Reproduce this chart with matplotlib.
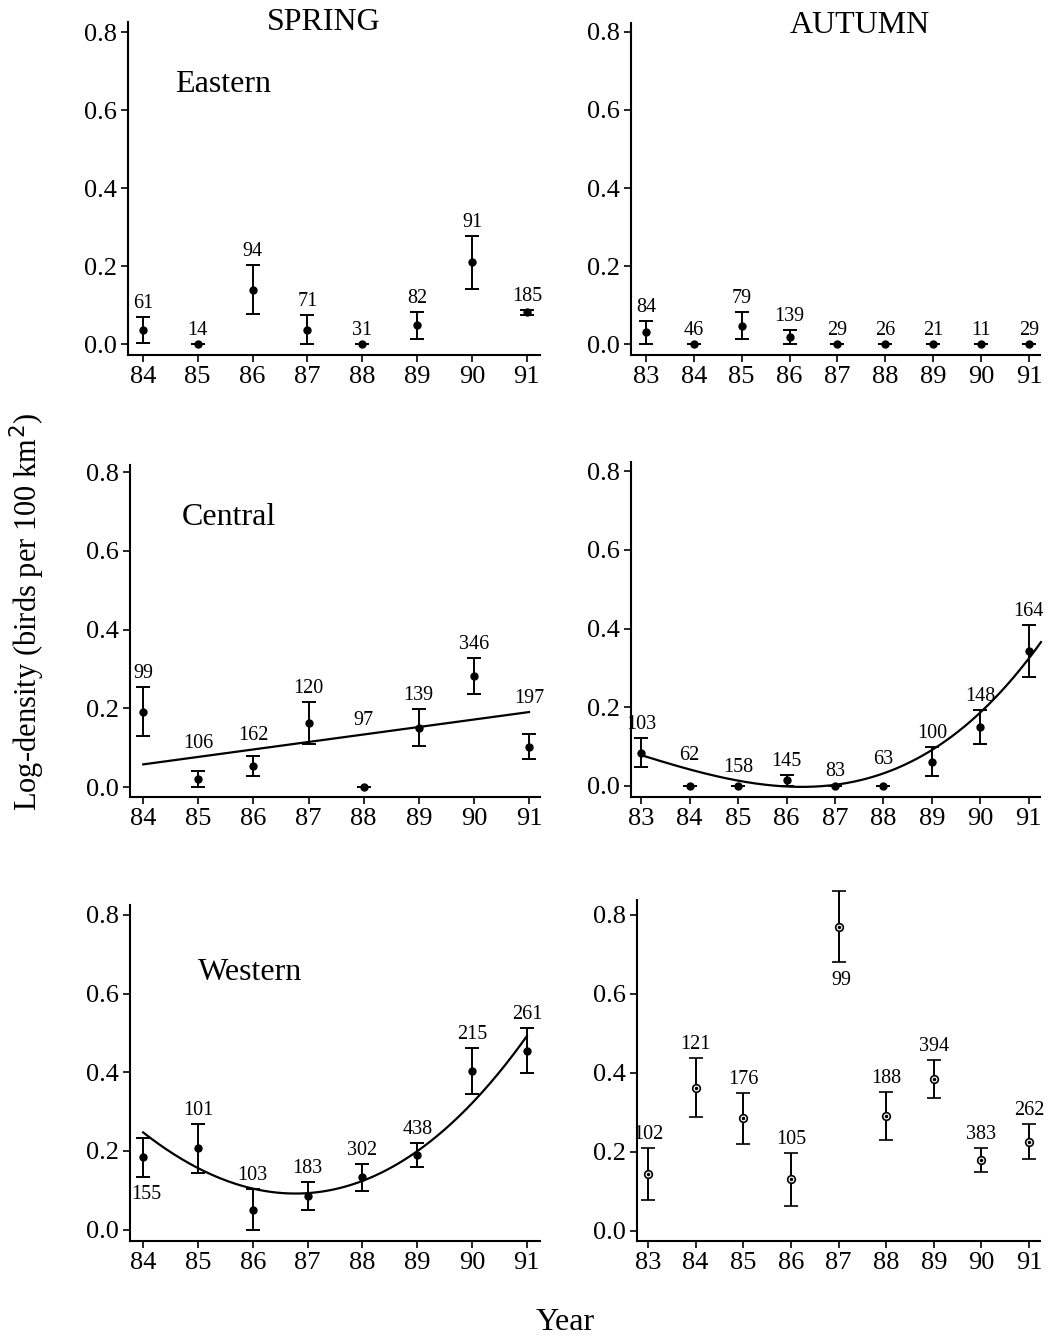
import numpy as np
import matplotlib
matplotlib.use('Agg')
import matplotlib.pyplot as plt

plt.rcParams['font.family'] = ['Liberation Serif', 'DejaVu Serif']

# ---------------- data ----------------
spring_years = [84, 85, 86, 87, 88, 89, 90, 91]
autumn_years = [83, 84, 85, 86, 87, 88, 89, 90, 91]
y_ticks = [0.0, 0.2, 0.4, 0.6, 0.8]

spring_east_mean = [0.036, 0.0, 0.139, 0.037, 0.0, 0.048, 0.210, 0.081]
spring_east_err = [0.034, 0.0, 0.063, 0.037, 0.0, 0.034, 0.068, 0.006]
spring_east_n = [61, 14, 94, 71, 31, 82, 91, 185]

autumn_east_mean = [0.030, 0.0, 0.047, 0.017, 0.0, 0.0, 0.0, 0.0, 0.0]
autumn_east_err = [0.030, 0.0, 0.035, 0.018, 0.0, 0.0, 0.0, 0.0, 0.0]
autumn_east_n = [84, 46, 79, 139, 29, 26, 21, 11, 29]

spring_central_mean = [0.192, 0.020, 0.053, 0.162, 0.0, 0.151, 0.282, 0.103]
spring_central_err = [0.062, 0.020, 0.025, 0.053, 0.0, 0.047, 0.046, 0.032]
spring_central_n = [99, 106, 162, 120, 97, 139, 346, 197]
spring_central_fit = [0.057, 0.080, 0.096, 0.113, 0.130, 0.154, 0.173, 0.191]

autumn_central_mean = [0.084, 0.0, 0.0, 0.014, 0.0, 0.0, 0.062, 0.150, 0.343]
autumn_central_err = [0.037, 0.0, 0.0, 0.014, 0.0, 0.0, 0.037, 0.044, 0.067]
autumn_central_n = [103, 62, 158, 145, 83, 63, 100, 148, 164]
autumn_central_fit = [0.079, 0.041, 0.014, -0.002, 0.003, 0.034, 0.091, 0.185, 0.325]

spring_west_mean = [0.184, 0.207, 0.051, 0.085, 0.133, 0.190, 0.403, 0.455]
spring_west_err = [0.050, 0.062, 0.051, 0.036, 0.034, 0.031, 0.058, 0.057]
spring_west_n = [155, 101, 103, 183, 302, 438, 215, 261]
spring_west_fit = [0.243, 0.165, 0.104, 0.084, 0.125, 0.202, 0.323, 0.490]

autumn_west_mean = [0.144, 0.362, 0.285, 0.130, 0.770, 0.291, 0.384, 0.179, 0.226]
autumn_west_err = [0.065, 0.075, 0.065, 0.067, 0.090, 0.060, 0.048, 0.031, 0.045]
autumn_west_n = [102, 121, 176, 105, 99, 188, 394, 383, 262]

# ---------------- layout ----------------
W, H = 1060, 1338
fig = plt.figure(figsize=(W / 100, H / 100), dpi=100)


def add_axes_px(left, right, top, bottom):
    return fig.add_axes([left / W, (H - bottom) / H, (right - left) / W, (bottom - top) / H])


panels = [
    # (years, mean, err, n, fit, fit_deg, fit_range, box, xlim, ylim, below, open_marker)
    (spring_years, spring_east_mean, spring_east_err, spring_east_n, None, None, None,
     (128, 540, 22, 355), (83.73, 91.24), (-0.028, 0.826), [], False),
    (autumn_years, autumn_east_mean, autumn_east_err, autumn_east_n, None, None, None,
     (631, 1040, 23, 355), (82.69, 91.23), (-0.028, 0.823), [], False),
    (spring_years, spring_central_mean, spring_central_err, spring_central_n,
     spring_central_fit, 1, (84, 91),
     (130, 540, 465, 797), (83.76, 91.20), (-0.025, 0.818), [], False),
    (autumn_years, autumn_central_mean, autumn_central_err, autumn_central_n,
     autumn_central_fit, 3, (83, 91.25),
     (631, 1040, 462, 797), (82.79, 91.23), (-0.028, 0.823), [], False),
    (spring_years, spring_west_mean, spring_west_err, spring_west_n,
     spring_west_fit, 3, (84, 91),
     (130, 540, 905, 1241), (83.76, 91.24), (-0.029, 0.825), [0], False),
    (autumn_years, autumn_west_mean, autumn_west_err, autumn_west_n, None, None, None,
     (637, 1040, 900, 1241), (82.77, 91.23), (-0.026, 0.838), [4], True),
]

for (yrs, mean, err, n, fit, deg, frange, box, xlim, ylim, below, open_m) in panels:
    ax = add_axes_px(*box)
    yrs_a = np.array(yrs, dtype=float)
    mean_a = np.array(mean)
    err_a = np.array(err)
    poly = None
    if fit is not None:
        poly = np.poly1d(np.polyfit(yrs_a, np.array(fit), deg))
        xs = np.linspace(frange[0], frange[1], 200)
        ax.plot(xs, poly(xs), color='black', lw=1.6, clip_on=False, zorder=2)
    if open_m:
        ax.errorbar(yrs_a, mean_a, yerr=err_a, fmt='o', ms=5.5, mfc='white', mec='black',
                    mew=1.2, ecolor='black', elinewidth=1.4, capsize=5, capthick=1.4,
                    color='black', clip_on=False, zorder=3)
        ax.plot(yrs_a, mean_a, 'o', ms=1.5, color='black', zorder=4)
    else:
        ax.errorbar(yrs_a, mean_a, yerr=err_a, fmt='o', ms=5, mfc='black', mec='black',
                    ecolor='black', elinewidth=1.4, capsize=5, capthick=1.4,
                    clip_on=False, zorder=3)
    for i, (x, m, e, lab) in enumerate(zip(yrs_a, mean_a, err_a, n)):
        if i in below:
            ax.annotate(str(lab), (x, m - e), xytext=(2, -6), textcoords='offset points',
                        ha='center', va='top', fontsize=14.5)
        else:
            top = m + e
            if poly is not None:
                top = max(top, poly(x))
            ax.annotate(str(lab), (x, top), xytext=(0, 6.5), textcoords='offset points',
                        ha='center', va='baseline', fontsize=14.5)
    ax.set_xlim(*xlim)
    ax.set_ylim(*ylim)
    ax.set_xticks(yrs)
    ax.set_xticklabels([str(y) for y in yrs])
    ax.set_yticks(y_ticks)
    ax.set_yticklabels(['%.1f' % t for t in y_ticks])
    for s in ('top', 'right'):
        ax.spines[s].set_visible(False)
    for s in ('left', 'bottom'):
        ax.spines[s].set_linewidth(1.5)
    ax.tick_params(direction='out', length=5, width=1.2, labelsize=19, pad=3)
    ax.set_facecolor('none')

# ---------------- text ----------------
fig.text(324 / W, 1 - 30 / H, 'SPRING', ha='center', va='baseline', fontsize=23)
fig.text(860 / W, 1 - 33 / H, 'AUTUMN', ha='center', va='baseline', fontsize=23)
fig.text(175 / W, 1 - 92 / H, 'Eastern', ha='left', va='baseline', fontsize=23)
fig.text(182 / W, 1 - 525 / H, 'Central', ha='left', va='baseline', fontsize=23)
fig.text(198 / W, 1 - 980 / H, 'Western', ha='left', va='baseline', fontsize=23)
fig.text(27 / W, 1 - 612 / H, 'Log-density (birds per 100 km$^2$)', rotation=90,
         ha='center', va='center', fontsize=22)
fig.text(565 / W, 1 - 1330 / H, 'Year', ha='center', va='baseline', fontsize=23)

fig.savefig('out.png', dpi=100, facecolor='white')
